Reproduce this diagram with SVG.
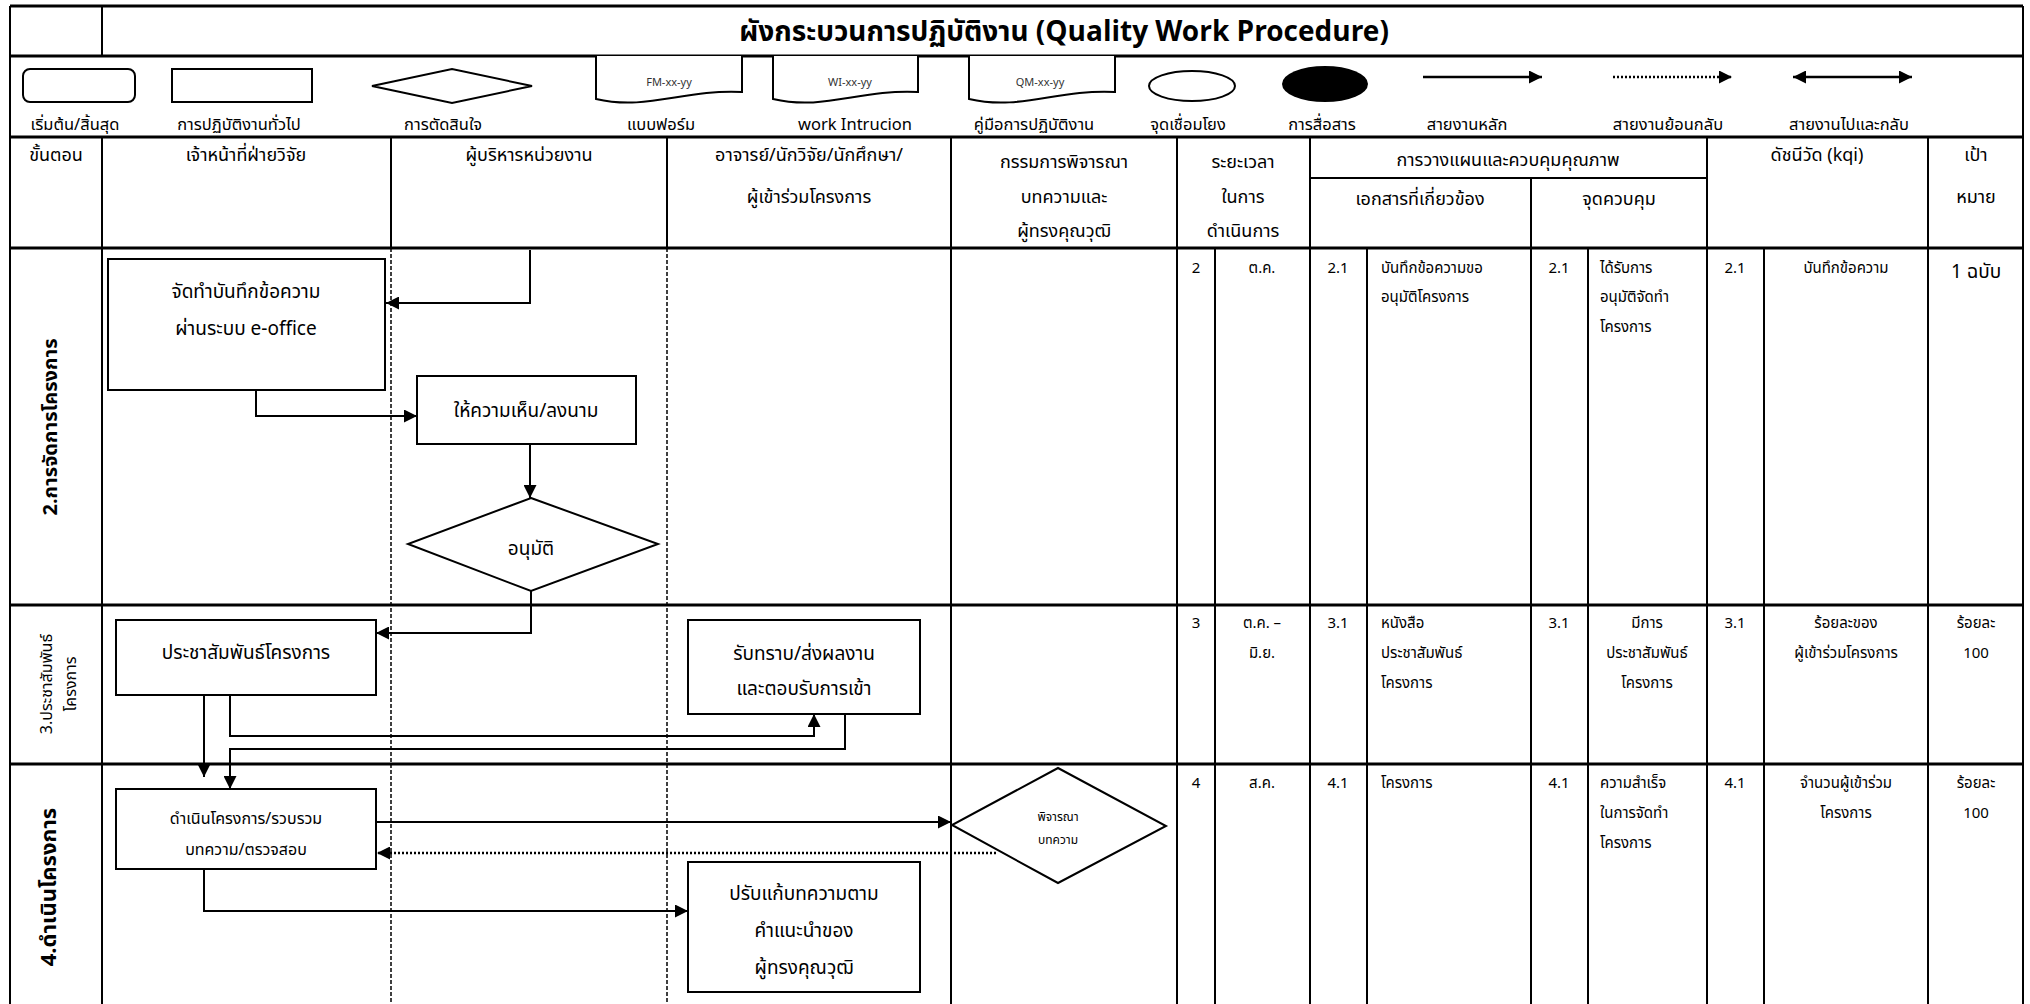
<svg xmlns="http://www.w3.org/2000/svg" width="2030" height="1004" viewBox="0 0 2030 1004">
<style>
text{font-family:"Noto Sans Thai","Noto Sans","Liberation Sans",sans-serif;fill:#000}
.ti{font-size:28px;font-weight:bold;text-anchor:middle}
.hd{font-size:18px;text-anchor:middle}
.lg{font-size:16.5px;text-anchor:middle}
.dc{font-size:11px;text-anchor:middle;fill:#333}
.nd{font-size:19px;text-anchor:middle}
.ns{font-size:16px;text-anchor:middle}
.nx{font-size:12px;text-anchor:middle}
.dt{font-size:15px}
.c{text-anchor:middle}
.rl{font-size:20px;font-weight:bold;text-anchor:middle;dominant-baseline:central}
.rs{font-size:16px;text-anchor:middle;dominant-baseline:central}
.g1{stroke:#000;stroke-width:3;fill:none}
.g2{stroke:#000;stroke-width:2;fill:none}
.gd{stroke:#000;stroke-width:1.5;stroke-dasharray:4 2;fill:none}
.box{fill:#fff;stroke:#000;stroke-width:2}
.cn{fill:none;stroke:#000;stroke-width:2;marker-end:url(#ah)}
.dot{fill:none;stroke:#000;stroke-width:2.5;stroke-dasharray:2 2;marker-end:url(#ah)}
.lgl{stroke-width:2.5}
</style>
<defs>
<marker id="ah" viewBox="0 0 10 10" refX="10" refY="5" markerUnits="userSpaceOnUse" markerWidth="16" markerHeight="13" orient="auto-start-reverse">
<path d="M0,0 L10,5 L0,10 z" fill="#000"/>
</marker>
</defs>
<rect width="2030" height="1004" fill="#fff"/>

<g id="grid">
<path class="g1" d="M10,6 H2023 M10,56 H2023 M10,137 H2023 M10,248 H2023 M10,605 H2023 M10,764 H2023"/>
<path class="g2" d="M10,6 V1004 M2023,6 V1004 M102,6 V56"/>
<path class="g2" d="M102,137 V1004 M391,137 V248 M667,137 V248 M951,137 V1004 M1177,137 V1004 M1310,137 V1004 M1707,137 V1004 M1928,137 V1004 M1310,178 H1707 M1531,178 V1004 M1215,248 V1004 M1367,248 V1004 M1588,248 V1004 M1764,248 V1004"/>
<path class="gd" d="M391,248 V1004 M667,248 V1004"/>
</g>

<g id="title">
<text class="ti" x="1064" y="41">ผังกระบวนการปฏิบัติงาน (Quality Work Procedure)</text>
</g>

<g id="legend">
<rect x="23" y="69" width="112" height="33" rx="7" class="box"/>
<rect x="172" y="69" width="140" height="33" class="box"/>
<polygon points="372,86 452,69 532,86 452,103" class="box"/>
<path class="box" d="M596,56 V99 C647,111 684,89 742,92 V56"/>
<path class="box" d="M773,56 V99 C824,111 860,89 918,92 V56"/>
<path class="box" d="M969,56 V99 C1020,111 1057,89 1115,92 V56"/>
<text class="dc" x="669" y="86">FM-xx-yy</text>
<text class="dc" x="850" y="86">WI-xx-yy</text>
<text class="dc" x="1040" y="86">QM-xx-yy</text>
<ellipse cx="1192" cy="86" rx="43" ry="15" class="box"/>
<ellipse cx="1325" cy="84" rx="43" ry="18" fill="#000"/>
<path d="M1423,77 H1542" class="cn lgl"/>
<path d="M1613,77 H1732" class="dot"/>
<path d="M1793,77 H1912" class="cn lgl" style="marker-start:url(#ah)"/>
<text class="lg" x="75" y="130">เริ่มต้น/สิ้นสุด</text>
<text class="lg" x="239" y="130">การปฏิบัติงานทั่วไป</text>
<text class="lg" x="443" y="130">การตัดสินใจ</text>
<text class="lg" x="661" y="130">แบบฟอร์ม</text>
<text class="lg" x="855" y="130">work Intrucion</text>
<text class="lg" x="1034" y="130">คู่มือการปฏิบัติงาน</text>
<text class="lg" x="1188" y="130">จุดเชื่อมโยง</text>
<text class="lg" x="1322" y="130">การสื่อสาร</text>
<text class="lg" x="1467" y="130">สายงานหลัก</text>
<text class="lg" x="1668" y="130">สายงานย้อนกลับ</text>
<text class="lg" x="1849" y="130">สายงานไปและกลับ</text>
</g>

<g id="header">
<text class="hd" x="56" y="161">ขั้นตอน</text>
<text class="hd" x="246" y="161">เจ้าหน้าที่ฝ่ายวิจัย</text>
<text class="hd" x="529" y="161">ผู้บริหารหน่วยงาน</text>
<text class="hd" x="809" y="161">อาจารย์/นักวิจัย/นักศึกษา/</text>
<text class="hd" x="809" y="203">ผู้เข้าร่วมโครงการ</text>
<text class="hd" x="1064" y="168">กรรมการพิจารณา</text>
<text class="hd" x="1064" y="203">บทความและ</text>
<text class="hd" x="1064" y="237">ผู้ทรงคุณวุฒิ</text>
<text class="hd" x="1243" y="168">ระยะเวลา</text>
<text class="hd" x="1243" y="203">ในการ</text>
<text class="hd" x="1243" y="237">ดำเนินการ</text>
<text class="hd" x="1508" y="166">การวางแผนและควบคุมคุณภาพ</text>
<text class="hd" x="1420" y="205">เอกสารที่เกี่ยวข้อง</text>
<text class="hd" x="1619" y="205">จุดควบคุม</text>
<text class="hd" x="1817" y="161">ดัชนีวัด (kqi)</text>
<text class="hd" x="1976" y="161">เป้า</text>
<text class="hd" x="1976" y="203">หมาย</text>
</g>

<g id="row-labels">
<text class="rl" x="51" y="427" transform="rotate(-90 51 427)">2.การจัดการโครงการ</text>
<text class="rs" x="47" y="684" transform="rotate(-90 47 684)">3.ประชาสัมพันธ์</text>
<text class="rs" x="71" y="684" transform="rotate(-90 71 684)">โครงการ</text>
<text class="rl" x="49" y="887" transform="rotate(-90 49 887)" style="font-size:22px">4.ดำเนินโครงการ</text>
</g>

<g id="connectors">
<path class="cn" d="M530,250 V303 H386"/>
<path class="cn" d="M256,390 V416 H417"/>
<path class="cn" d="M530,444 V498"/>
<path class="cn" d="M531,591 V633 H376"/>
<path class="cn" d="M204,695 V777"/>
<path class="cn" d="M230,695 V736 H814 V714"/>
<path class="cn" d="M845,714 V749 H230 V789"/>
<path class="cn" d="M376,822 H951"/>
<path class="dot" d="M996,853 H377"/>
<path class="cn" d="M204,869 V911 H688"/>
</g>

<g id="n1">
<rect x="108" y="259" width="277" height="131" class="box"/>
<text class="nd" x="246" y="298">จัดทำบันทึกข้อความ</text>
<text class="nd" x="246" y="335">ผ่านระบบ e-office</text>
</g>
<g id="n2">
<rect x="417" y="376" width="219" height="68" class="box"/>
<text class="nd" x="526" y="417">ให้ความเห็น/ลงนาม</text>
</g>
<g id="n3">
<polygon points="531,498 658,544 531,591 408,544" class="box"/>
<text class="nd" x="531" y="555">อนุมัติ</text>
</g>
<g id="n4">
<rect x="116" y="620" width="260" height="75" class="box"/>
<text class="nd" x="246" y="659">ประชาสัมพันธ์โครงการ</text>
</g>
<g id="n5">
<rect x="688" y="620" width="232" height="94" class="box"/>
<text class="nd" x="804" y="660">รับทราบ/ส่งผลงาน</text>
<text class="nd" x="804" y="695">และตอบรับการเข้า</text>
</g>
<g id="n6">
<rect x="116" y="789" width="260" height="80" class="box"/>
<text class="ns" x="246" y="824">ดำเนินโครงการ/รวบรวม</text>
<text class="ns" x="246" y="855">บทความ/ตรวจสอบ</text>
</g>
<g id="n7">
<polygon points="1058,768 1166,826 1058,883 952,825" class="box"/>
<text class="nx" x="1058" y="821">พิจารณา</text>
<text class="nx" x="1058" y="844">บทความ</text>
</g>
<g id="n8">
<rect x="688" y="862" width="232" height="130" class="box"/>
<text class="nd" x="804" y="900">ปรับแก้บทความตาม</text>
<text class="nd" x="804" y="937">คำแนะนำของ</text>
<text class="nd" x="804" y="974">ผู้ทรงคุณวุฒิ</text>
</g>

<g id="data-row2">
<text class="dt c" x="1196" y="273">2</text>
<text class="dt c" x="1262" y="273">ต.ค.</text>
<text class="dt c" x="1338" y="273">2.1</text>
<text class="dt" x="1381" y="273">บันทึกข้อความขอ</text>
<text class="dt" x="1381" y="302">อนุมัติโครงการ</text>
<text class="dt c" x="1559" y="273">2.1</text>
<text class="dt" x="1600" y="273">ได้รับการ</text>
<text class="dt" x="1600" y="302">อนุมัติจัดทำ</text>
<text class="dt" x="1600" y="332">โครงการ</text>
<text class="dt c" x="1735" y="273">2.1</text>
<text class="dt c" x="1846" y="273">บันทึกข้อความ</text>
<text class="c" x="1976" y="278" style="font-size:19px">1 ฉบับ</text>
</g>

<g id="data-row3">
<text class="dt c" x="1196" y="628">3</text>
<text class="dt c" x="1262" y="628">ต.ค. –</text>
<text class="dt c" x="1262" y="658">มิ.ย.</text>
<text class="dt c" x="1338" y="628">3.1</text>
<text class="dt" x="1381" y="628">หนังสือ</text>
<text class="dt" x="1381" y="658">ประชาสัมพันธ์</text>
<text class="dt" x="1381" y="688">โครงการ</text>
<text class="dt c" x="1559" y="628">3.1</text>
<text class="dt c" x="1647" y="628">มีการ</text>
<text class="dt c" x="1647" y="658">ประชาสัมพันธ์</text>
<text class="dt c" x="1647" y="688">โครงการ</text>
<text class="dt c" x="1735" y="628">3.1</text>
<text class="dt c" x="1846" y="628">ร้อยละของ</text>
<text class="dt c" x="1846" y="658">ผู้เข้าร่วมโครงการ</text>
<text class="dt c" x="1976" y="628">ร้อยละ</text>
<text class="dt c" x="1976" y="658">100</text>
</g>

<g id="data-row4">
<text class="dt c" x="1196" y="788">4</text>
<text class="dt c" x="1262" y="788">ส.ค.</text>
<text class="dt c" x="1338" y="788">4.1</text>
<text class="dt" x="1381" y="788">โครงการ</text>
<text class="dt c" x="1559" y="788">4.1</text>
<text class="dt" x="1600" y="788">ความสำเร็จ</text>
<text class="dt" x="1600" y="818">ในการจัดทำ</text>
<text class="dt" x="1600" y="848">โครงการ</text>
<text class="dt c" x="1735" y="788">4.1</text>
<text class="dt c" x="1846" y="788">จำนวนผู้เข้าร่วม</text>
<text class="dt c" x="1846" y="818">โครงการ</text>
<text class="dt c" x="1976" y="788">ร้อยละ</text>
<text class="dt c" x="1976" y="818">100</text>
</g>
</svg>
